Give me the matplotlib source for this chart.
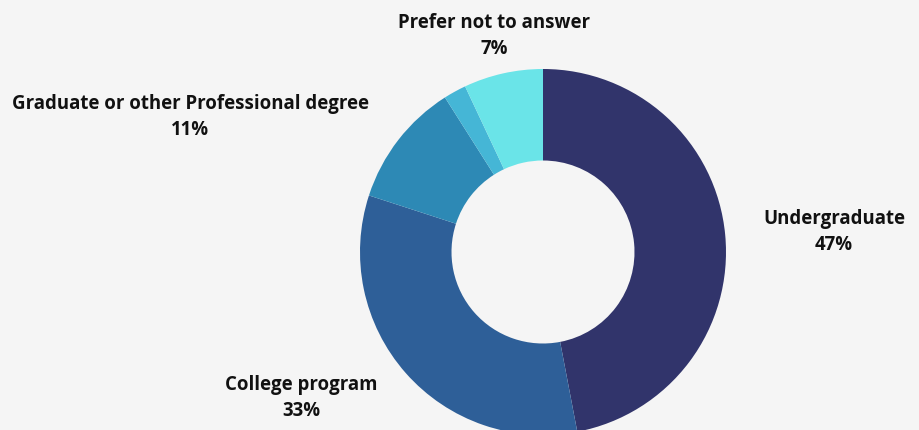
import matplotlib.pyplot as plt

# education level breakdown, clockwise from 12 o'clock
categories = ["Undergraduate", "College program", "Graduate or other Professional degree",
              "Other", "Prefer not to answer"]
shares = [47, 33, 11, 2, 7]
colors = ["#31346b", "#2e5f98", "#2d89b5", "#45b6d6", "#6ae4e8"]
show_label = [True, True, True, False, True]

# label anchor (pixel centre of the name line)
label_px = {
    "Undergraduate": (834, 219),
    "College program": (301, 385),
    "Graduate or other Professional degree": (190, 104),
    "Prefer not to answer": (494, 23),
}

W, H = 919, 431
bg = "#f5f5f5"
plt.rcParams["font.family"] = ["Open Sans", "DejaVu Sans"]

fig = plt.figure(figsize=(W / 100, H / 100), dpi=100, facecolor=bg)

# donut centre and radius in pixels
cx, cy, r = 543, 253, 183
ax = fig.add_axes([(cx - r) / W, (H - cy - r) / H, 2 * r / W, 2 * r / H])
ax.set_facecolor(bg)
ax.pie(shares, colors=colors, startangle=90, counterclock=False, radius=1,
       wedgeprops=dict(width=0.5, linewidth=0))
ax.set_xlim(-1, 1)
ax.set_ylim(-1, 1)
ax.set_aspect("equal")
ax.axis("off")

for name, val, show in zip(categories, shares, show_label):
    if not show:
        continue
    x, y = label_px[name]
    fig.text(x / W, 1 - y / H, name, ha="center", va="center",
             fontsize=13.4, fontweight="bold", color="#111111")
    fig.text(x / W, 1 - (y + 26) / H, f"{val}%", ha="center", va="center",
             fontsize=13.4, fontweight="bold", color="#111111")

fig.savefig("out.png", dpi=100, facecolor=bg)
